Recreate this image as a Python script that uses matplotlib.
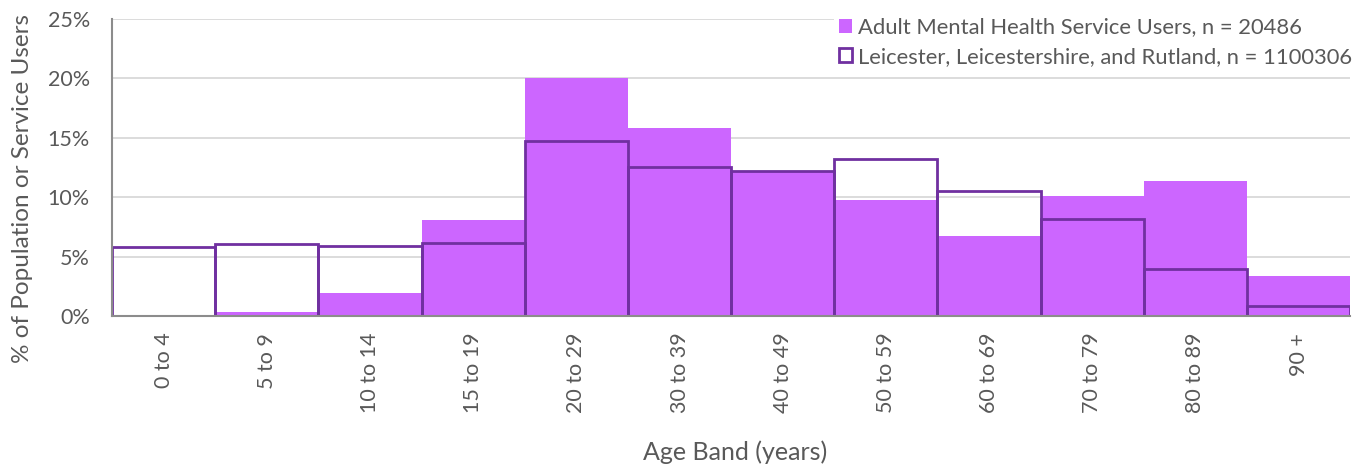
import matplotlib
matplotlib.use("Agg")
import matplotlib.pyplot as plt
from matplotlib.patches import Patch
from matplotlib.ticker import PercentFormatter
import numpy as np

plt.rcParams['font.family'] = ['Lato', 'DejaVu Sans']

categories = ["0 to 4", "5 to 9", "10 to 14", "15 to 19", "20 to 29", "30 to 39",
              "40 to 49", "50 to 59", "60 to 69", "70 to 79", "80 to 89", "90 +"]
service_users = [0.05, 0.33, 1.95, 8.1, 20.0, 15.85, 12.15, 9.8, 6.7, 10.1, 11.35, 3.35]
population = [5.8, 6.1, 5.9, 6.15, 14.7, 12.5, 12.2, 13.25, 10.5, 8.15, 3.95, 0.85]

label_users = "Adult Mental Health Service Users, n = 20486"
label_pop = "Leicester, Leicestershire, and Rutland, n = 1100306"

fill_color = "#CC66FF"
edge_color = "#7030A0"
text_color = "#595959"

fig = plt.figure(figsize=(13.68, 4.68), dpi=100)
ax = fig.add_axes([0.0819, 0.3248, 0.9051, 0.6346])

x = np.arange(len(categories))
ax.bar(x, service_users, width=1.0, color=fill_color, edgecolor='none', zorder=2)
ax.bar(x, population, width=1.0, facecolor='none', edgecolor=edge_color, linewidth=2, zorder=3)

ax.set_xlim(-0.5, len(categories) - 0.5)
ax.set_ylim(0, 25)
ax.set_yticks([0, 5, 10, 15, 20, 25])
ax.yaxis.set_major_formatter(PercentFormatter(decimals=0))
ax.set_xticks(x)
ax.set_xticklabels(categories, rotation=90, va='top', ha='center')
ax.tick_params(axis='both', length=0, labelsize=15.5, colors=text_color)
ax.tick_params(axis='x', pad=12)
ax.tick_params(axis='y', pad=16)
ax.grid(axis='y', color='#D9D9D9', linewidth=1.3, zorder=0)
ax.set_axisbelow(True)
for s in ['top', 'right']:
    ax.spines[s].set_visible(False)
for s in ['left', 'bottom']:
    ax.spines[s].set_color('#8C8C8C')
    ax.spines[s].set_linewidth(1.5)
    ax.spines[s].set_zorder(4)

ax.set_ylabel("% of Population or Service Users", fontsize=17.5, color=text_color,
              va='center', ha='center')
ax.yaxis.set_label_coords(-0.0727, 0.428)
ax.set_xlabel("Age Band (years)", fontsize=18, color=text_color, va='center', ha='center')
ax.xaxis.set_label_coords(0.503, -0.458)

handles = [Patch(facecolor=fill_color, edgecolor='none', label=label_users),
           Patch(facecolor='white', edgecolor=edge_color, linewidth=2, label=label_pop)]
leg = fig.legend(handles=handles, loc='upper right', bbox_to_anchor=(1357 / 1368, 1 - 13 / 468),
                 frameon=True, facecolor='white', edgecolor='none', framealpha=1,
                 fontsize=15.8, handlelength=0.6, handleheight=0.6, handletextpad=0.3,
                 labelspacing=0.42, borderpad=0.2, borderaxespad=0.0)
for t in leg.get_texts():
    t.set_color(text_color)
leg.set_zorder(5)

fig.savefig("out.png", dpi=100)
